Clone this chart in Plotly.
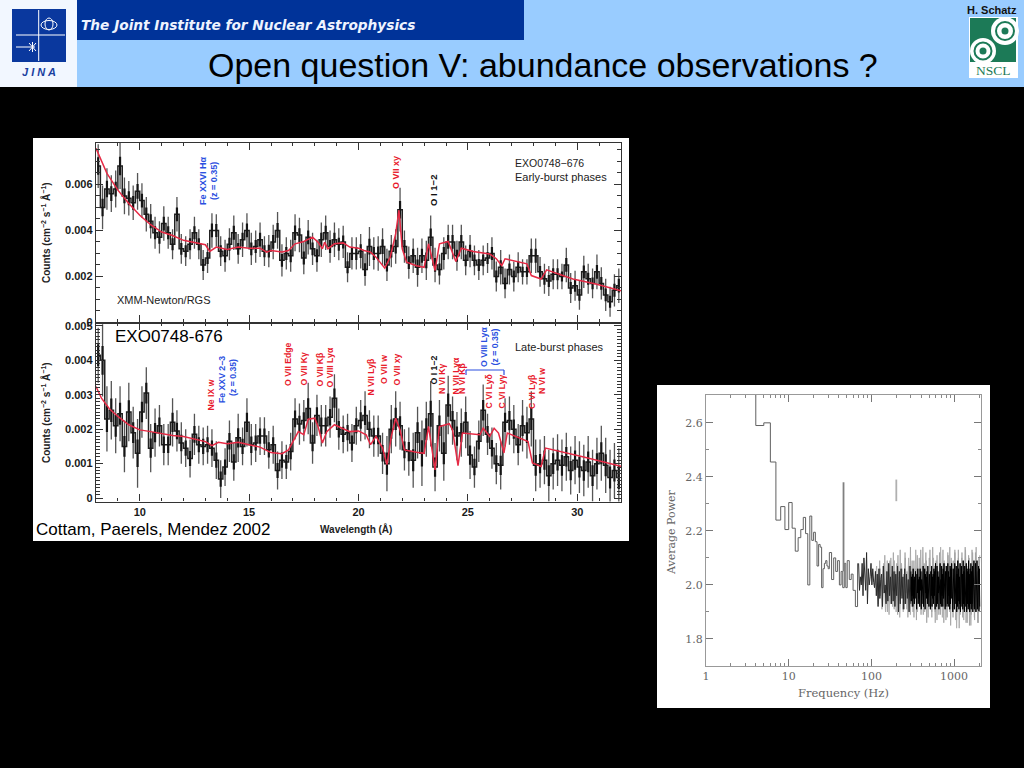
import plotly.graph_objects as go

W, H = 1024, 768

# ---------- data: RGS spectra, counts in units of 1e-3 cm^-2 s^-1 A^-1, 0.2 A bins ----------
wave = [round(8.1 + 0.2 * i, 1) for i in range(120)]
early_counts = [
    6.8,5.0,5.8,5.6,5.8,6.8,5.5,5.4,5.2,5.7,
    5.3,4.7,4.4,3.9,3.7,4.3,3.9,3.4,4.7,3.2,
    3.1,3.4,3.9,3.4,2.5,2.8,4.0,4.0,3.1,2.9,
    3.4,3.9,3.2,3.6,4.0,3.2,3.3,3.6,3.1,3.1,
    3.5,4.0,2.7,3.0,2.9,3.9,3.8,2.8,3.7,3.2,
    2.9,3.6,3.9,3.3,3.6,3.4,3.5,2.4,3.0,3.0,
    3.1,2.3,3.3,3.0,3.0,3.3,2.5,3.1,3.3,4.9,
    3.3,2.6,2.9,2.4,2.9,2.7,3.7,2.5,2.3,3.0,
    3.5,3.5,2.9,3.5,2.7,3.1,2.7,2.5,2.7,2.8,
    3.0,2.0,2.4,1.7,2.3,2.0,2.4,2.2,2.2,2.9,
    2.9,2.2,1.9,1.8,2.1,2.1,2.0,2.5,1.5,1.6,
    1.2,2.2,1.9,1.7,2.2,1.7,1.2,0.9,1.4,1.6]
early_err = [
    0.95,0.95,0.9,0.8,0.8,1.0,0.8,0.75,0.75,0.8,
    0.75,0.75,0.75,0.7,0.7,0.75,0.7,0.65,0.75,0.65,
    0.65,0.65,0.7,0.65,0.65,0.65,0.75,0.7,0.65,0.7,
    0.7,0.75,0.65,0.75,0.75,0.7,0.7,0.75,0.65,0.7,
    0.75,0.8,0.7,0.7,0.7,0.8,0.75,0.7,0.75,0.7,
    0.7,0.75,0.75,0.7,0.75,0.7,0.7,0.65,0.7,0.7,
    0.75,0.7,0.85,0.7,0.75,0.8,0.7,0.7,0.75,0.95,
    0.7,0.7,0.75,0.85,0.75,0.85,0.95,0.75,0.65,0.7,
    0.75,0.75,0.65,0.75,0.65,0.7,0.65,0.65,0.65,0.65,
    0.7,0.65,0.75,0.65,0.65,0.65,0.65,0.55,0.55,0.75,
    0.75,0.65,0.65,0.65,0.65,0.65,0.55,0.75,0.65,0.65,
    0.65,0.7,0.65,0.65,0.75,0.7,0.7,0.65,0.7,0.75]
early_model_wave = [8,8.25,8.5,9,9.5,10,10.5,11,11.5,12,12.5,13,13.2,13.5,14,14.5,15,15.5,15.8,16,
    16.5,16.8,17.1,17.5,17.9,18.15,18.35,18.45,18.6,18.9,19.3,19.6,20,20.25,20.55,20.8,21.2,21.45,
    21.7,21.85,22,22.2,22.65,23,23.2,23.5,23.7,24.1,24.45,24.7,25.25,26,26.3,26.55,26.7,27.7,27.9,
    28.35,28.6,29.8,30.85,32]
early_model = [7.57,7.0,6.48,5.75,5.17,4.66,4.25,3.93,3.78,3.57,3.46,3.38,3.09,3.28,3.17,3.28,3.23,3.23,3.06,3.13,
    3.06,3.13,3.42,3.52,3.71,3.49,3.2,3.49,3.2,3.42,3.46,3.28,3.23,3.13,3.06,2.84,2.36,2.84,
    3.86,4.88,3.2,2.62,2.47,2.4,3.42,2.26,3.42,3.52,2.65,3.23,3.09,2.98,2.77,2.47,2.77,2.55,2.04,
    1.89,2.29,1.89,1.67,1.38]

late_counts = [
    4.15,4.0,2.3,2.55,2.1,2.45,1.5,2.5,1.9,1.3,
    2.5,3.05,1.45,1.9,2.1,1.55,1.55,2.2,1.95,1.6,
    1.45,1.15,1.85,1.55,1.5,1.55,1.45,1.1,0.55,0.9,
    1.65,1.05,1.75,1.5,2.2,1.55,1.6,1.8,1.8,1.4,
    1.55,0.8,1.1,1.05,1.35,2.3,2.15,2.25,2.6,1.6,
    2.4,2.1,2.1,2.35,2.9,2.0,1.85,1.9,1.6,2.1,
    2.25,2.4,2.0,1.8,1.8,1.3,1.0,2.0,2.3,2.1,
    1.4,1.35,1.1,1.9,1.3,2.0,2.45,0.9,2.1,1.3,
    2.7,2.25,1.8,1.9,2.2,1.25,0.9,1.65,2.55,1.85,
    1.45,1.0,0.95,2.2,2.25,2.0,1.55,2.1,1.9,2.3,
    0.95,1.0,1.1,0.65,1.0,1.1,0.95,1.2,0.8,1.1,
    0.9,0.8,1.05,0.65,1.0,1.3,0.95,0.6,0.8,0.6]
late_err = [
    0.8,1.05,0.95,0.85,0.8,0.8,0.75,0.85,0.75,1.0,
    0.75,0.75,0.7,0.7,0.6,0.6,0.6,0.7,0.6,0.6,
    0.55,0.55,0.6,0.55,0.55,0.55,0.55,0.55,0.55,0.55,
    0.6,0.55,0.7,0.55,0.7,0.6,0.55,0.55,0.55,0.55,
    0.55,0.55,0.55,0.5,0.55,0.6,0.6,0.6,0.75,0.6,
    0.6,0.6,0.6,0.6,0.7,0.6,0.55,0.55,0.55,0.55,
    0.6,0.7,0.55,0.6,0.6,0.6,0.8,0.7,0.8,0.7,
    0.6,0.7,0.8,0.75,0.95,0.8,0.95,0.7,0.75,0.8,
    0.85,0.7,0.7,0.7,0.75,0.7,0.6,0.6,0.75,0.6,
    0.6,0.6,0.7,0.7,0.7,0.7,0.6,0.75,0.75,0.8,
    0.75,0.7,0.7,0.75,0.75,0.75,0.75,0.7,0.7,0.7,
    0.75,0.75,0.75,0.75,0.75,0.8,0.8,0.8,0.8,0.85]
late_model_wave = [8,8.25,8.6,9,9.5,10,10.5,11,11.5,12,12.5,13,13.3,13.6,14,14.5,15,15.5,16,16.5,16.8,17.05,17.25,
    17.5,17.7,18,18.15,18.35,18.55,18.9,19.6,20,20.35,20.55,20.8,21.1,21.3,21.5,21.7,21.9,22.1,22.65,23,23.2,
    23.5,23.7,24.15,24.3,24.55,24.75,25.55,25.7,26,26.2,26.4,26.65,26.8,27.75,27.95,28.35,28.55,30.2,32]
late_model = [3.24,2.9,2.6,2.37,2.13,1.98,1.93,1.87,1.82,1.79,1.71,1.64,1.52,1.62,1.58,1.62,1.55,1.48,1.32,1.29,1.4,1.69,1.93,
    1.84,2.29,2.32,2.08,1.6,1.93,2.13,1.93,1.95,1.84,1.55,1.79,1.45,0.97,1.79,2.32,1.98,1.4,1.33,1.3,2.08,
    0.82,2.08,2.16,1.98,0.94,1.89,1.84,2.03,1.79,2.03,1.89,1.31,1.89,1.64,1.02,0.92,1.45,1.21,0.92]

# ---------- data: power spectrum ----------
step_freq = [3,4,5,6,7,8,9,10,11,12,13,14,15,16,17,18,19,20,21,22,23,24,25,26,27,28,29,30,31,33,35,37,39,41,43,45,47,49,51,54,57,60,64,68]
step_power = [3.2,2.59,2.60,2.455,2.24,2.29,2.205,2.305,2.21,2.125,2.175,2.205,2.25,2.19,2.0,2.255,2.165,2.195,2.16,2.07,2.15,2.14,1.99,2.06,2.08,2.09,2.07,2.06,2.12,2.02,2.10,2.05,2.09,2.0,2.05,1.99,2.08,1.99,2.09,2.02,2.04,1.98,1.92,2.08]
peak_a_freq, peak_a_power = [46, 46], [2.05, 2.38]
peak_b_freq, peak_b_power = [200, 200], [2.31, 2.39]
band_low = [2.08,1.98,2.03,2.00,2.08,1.96,2.10,2.03,1.98,2.12,1.93,2.06,2.00,2.03,2.08,2.00,2.06,2.01,1.99,2.05,
    1.96,2.04,1.92,2.06,1.95,2.02,2.04,1.92,2.07,1.97,2.00,1.93,2.05,1.94,2.08,1.96,2.03,1.93,2.07,1.94,
    2.05,1.92,2.04,1.96,2.07,1.90,2.05,1.93,2.06,1.95,2.03,1.91,2.06,1.93,2.04,1.95,2.02,1.90,2.07,1.93]
band_high = [2.05,1.94,2.03,1.96,2.04,1.92,2.06,1.95,2.02,1.93,2.03,1.95,2.05,1.96,2.01,1.91,2.04,1.97,2.06,1.93,
    2.02,1.95,2.03,1.92,2.06,1.98,2.05,1.91,2.02,1.93,2.04,1.95,2.07,1.92,2.01,1.94,2.06,1.91,2.04,1.97,
    2.03,1.95,2.05,1.93,2.07,1.97,2.06,1.92,2.04,1.94,2.02,1.91,2.05,1.96,2.07,1.92,2.03,1.95,2.04,1.93,
    2.06,1.96,2.05,1.91,2.08,1.94,2.02,1.92,2.07,1.93,2.05,1.97,2.03,1.91,2.06,1.94,2.08,1.93,2.02,1.92,
    2.07,1.96,2.04,1.92,2.06,1.95,2.08,1.94,2.03,1.91,2.05,1.92,2.07,1.95,2.04,1.93,2.08,1.92,2.05,1.96,
    2.03,1.91,2.07,1.93,2.06,1.95,2.08,1.92,2.04,1.90,2.06,1.93,2.02,1.91,2.08,1.94,2.05,1.93,2.07,1.90,
    2.04,1.92,2.09,1.94,2.06,1.91,2.03,1.93,2.08,1.90,2.06,1.95,2.07,1.92,2.04,1.91,2.09,1.93,2.05,1.90,
    2.07,1.94,2.03,1.92,2.08,1.90,2.06,1.93,2.05,1.91,2.09,1.92,2.04,1.90,2.06,1.93,2.08,1.91,2.05,1.93,
    2.07,1.90,2.04,1.92,2.09,1.91,2.06,1.93,2.08,1.90,2.05,1.92,2.09,1.91,2.03,1.93,2.07,1.90,2.06,1.92]
spikes = [2.0,2.07,1.93,2.06,1.91,2.08,1.90,2.09,1.89,2.10,1.92,2.09,1.90,2.11,1.88,2.08,1.90,2.12,1.91,2.10,
    1.89,2.09,1.88,2.13,1.90,2.10,1.89,2.14,1.90,2.09,1.88,2.13,1.90,2.10,1.86,2.11,1.89,2.14,1.88,2.09,
    1.87,2.12,1.90,2.10,1.88,2.13,1.84,2.10,1.89,2.12,1.87,2.13,1.86,2.10,1.85,2.12,1.88,2.14,1.86,2.11]
fringe = [2.04,1.95,2.09,1.96,2.02,1.92,2.07,1.97,2.11,1.94,2.03,1.90,2.06,1.96,2.09,1.93,2.04,1.98,2.12,1.91,
    2.05,1.95,2.08,1.89,2.03,1.94,2.13,1.96,2.06,1.91,2.04,1.93,2.10,1.97,2.05,1.88,2.07,1.95,2.14,1.92,
    2.03,1.90,2.09,1.96,2.06,1.87,2.11,1.94,2.04,1.92,2.13,1.96,2.05,1.89,2.08,1.93,2.12,1.86,2.05,1.94,
    2.10,1.91,2.04,1.88,2.14,1.95,2.07,1.90,2.09,1.87,2.05,1.94,2.12,1.89,2.06,1.92,2.13,1.86,2.08,1.95,
    2.04,1.88,2.11,1.93,2.14,1.85,2.06,1.91,2.09,1.94,2.12,1.87,2.05,1.90,2.13,1.84,2.08,1.93,2.10,1.88,
    2.05,1.91,2.14,1.86,2.07,1.93,2.11,1.85,2.06,1.89,2.13,1.92,2.08,1.87,2.12,1.90,2.05,1.86,2.10,1.91]

# ---------- tick labels ----------
wave_ticks = [10, 15, 20, 25, 30]
early_ticks = [0, 0.002, 0.004, 0.006]
early_labels = ["0", "0.002", "0.004", "0.006"]
late_ticks = [0, 0.001, 0.002, 0.003, 0.004, 0.005]
late_labels = ["0", "0.001", "0.002", "0.003", "0.004", "0.005"]
freq_ticks = [1, 10, 100, 1000]
freq_labels = ["1", "10", "100", "1000"]
freq_minor = [2,3,4,5,6,7,8,9,20,30,40,50,60,70,80,90,200,300,400,500,600,700,800,900,2000]
power_ticks = [1.8, 2.0, 2.2, 2.4, 2.6]
power_labels = ["1.8", "2.0", "2.2", "2.4", "2.6"]

SANS = "Liberation Sans"
SERIF = "DejaVu Serif"
RED, BLUE = "#e8192c", "#2a4fe0"


def px(x): return x / W
def py(y): return 1 - y / H


def geomgrid(a, b, n):
    return [a * (b / a) ** (i / (n - 1)) for i in range(n)]


fig = go.Figure()


def spectrum(counts, err, mw, mv, xa, ya):
    y = [v * 1e-3 for v in counts]
    fig.add_trace(go.Scatter(x=wave, y=y, mode="lines",
        line=dict(color="#222222", width=1.5, shape="hvh"),
        error_y=dict(type="data", array=[v * 1e-3 for v in err], color="#555555", thickness=1.3, width=0),
        xaxis=xa, yaxis=ya))
    fig.add_trace(go.Scatter(x=wave, y=y, mode="lines", line=dict(width=0),
        error_y=dict(type="data", array=[v * 0.4e-3 for v in err], color="#151515", thickness=2.2, width=0),
        xaxis=xa, yaxis=ya))
    fig.add_trace(go.Scatter(x=mw, y=[v * 1e-3 for v in mv], mode="lines",
        line=dict(color="#e62a45", width=1.5), xaxis=xa, yaxis=ya))


spectrum(early_counts, early_err, early_model_wave, early_model, "x", "y")
spectrum(late_counts, late_err, late_model_wave, late_model, "x2", "y2")

# power spectrum
fig.add_trace(go.Scatter(x=geomgrid(110, 2040, len(spikes)), y=spikes, mode="lines",
    line=dict(color="#b0b0b0", width=1), xaxis="x3", yaxis="y3"))
fig.add_trace(go.Scatter(x=geomgrid(120, 2040, len(fringe)), y=fringe, mode="lines",
    line=dict(color="#a0a0a0", width=0.8), xaxis="x3", yaxis="y3"))
fig.add_trace(go.Scatter(x=step_freq, y=step_power, mode="lines",
    line=dict(color="#606060", width=1, shape="hv"), xaxis="x3", yaxis="y3"))
fig.add_trace(go.Scatter(x=peak_a_freq, y=peak_a_power, mode="lines",
    line=dict(color="#808080", width=1.8), xaxis="x3", yaxis="y3"))
fig.add_trace(go.Scatter(x=peak_b_freq, y=peak_b_power, mode="lines",
    line=dict(color="#b0b0b0", width=1.8), xaxis="x3", yaxis="y3"))
fig.add_trace(go.Scatter(x=geomgrid(70, 300, len(band_low)), y=band_low, mode="lines",
    line=dict(color="#2a2a2a", width=1), xaxis="x3", yaxis="y3"))
fig.add_trace(go.Scatter(x=geomgrid(300, 2040, len(band_high)), y=band_high, mode="lines",
    line=dict(color="#000000", width=1), xaxis="x3", yaxis="y3"))


def rect(x0, y0, x1, y1, color, layer="below", line=None):
    return dict(type="rect", xref="paper", yref="paper", x0=px(x0), x1=px(x1), y0=py(y1), y1=py(y0),
                fillcolor=color, line=dict(width=0) if line is None else line, layer=layer)


def circ(x, y, rx, color, line=None, ry=None):
    ry = rx if ry is None else ry
    return dict(type="circle", xref="paper", yref="paper", x0=px(x - rx), x1=px(x + rx), y0=py(y + ry), y1=py(y - ry),
                fillcolor=color, line=dict(width=0) if line is None else line, layer="below")


def seg(x0, y0, x1, y1, color, width=1, layer="below"):
    return dict(type="line", xref="paper", yref="paper", x0=px(x0), x1=px(x1), y0=py(y0), y1=py(y1),
                line=dict(color=color, width=width), layer=layer)


LOGO = "#0a389e"
GREEN = "#1c7a57"
shapes = [
    rect(0, 0, W, 87, "#99ccff"),
    rect(77, 0, 524, 40, "#003399"),
    rect(0, 0, 77, 87, "#f2f7ff"),
    rect(12, 9, 66, 62, LOGO),
    seg(38.7, 10, 38.7, 61, "white"),
    seg(16, 35, 65, 35, "white"),
    seg(16, 47, 35, 47, "white"),
    seg(29, 43, 36, 51, "white"),
    seg(36, 43, 29, 51, "white"),
    seg(32.5, 42, 32.5, 52, "white"),
    circ(49, 25, 8, "rgba(0,0,0,0)", dict(color="white", width=1), 4.5),
    circ(49, 24, 4, "rgba(0,0,0,0)", dict(color="white", width=1), 6),
    rect(969, 17, 1018, 78, "white"),
    rect(970, 18, 1016, 62, GREEN),
    circ(1005, 31, 14, "white"),
    circ(1005, 31, 9, "rgba(0,0,0,0)", dict(color=GREEN, width=2)),
    circ(1005, 31, 3.5, GREEN),
    circ(983, 51, 13, "white"),
    circ(983, 51, 8.5, "rgba(0,0,0,0)", dict(color=GREEN, width=2)),
    circ(983, 51, 3.5, GREEN),
    rect(33, 138, 629, 541, "white"),
    rect(657, 385, 990, 708, "white"),
    seg(466, 375, 466, 370, BLUE, 1.2, "above"),
    seg(466, 370, 504, 370, BLUE, 1.2, "above"),
    seg(504, 370, 504, 375, BLUE, 1.2, "above"),
]

annotations = []


def label(text, x, y, color="#222222", size=9, angle=0, anchor="center", family=SANS):
    annotations.append(dict(text=text, xref="paper", yref="paper", x=px(x), y=py(y), showarrow=False,
                            xanchor=anchor, yanchor="middle", textangle=angle,
                            font=dict(family=family, size=size, color=color), borderpad=0, borderwidth=0))


# header
label("<b><i>The Joint Institute for Nuclear Astrophysics</i></b>", 81, 25, "#eef3ff", 13.7, anchor="left", family="DejaVu Sans")
label("Open question V: abundance observations ?", 542.5, 65, "#000000", 34)
label("<b>H. Schatz</b>", 992, 10, "#111111", 11)
label("<b><i>J I N A</i></b>", 39, 72, "#1a3f9f", 11)
label("NSCL", 993, 70, GREEN, 13.5, family="Liberation Serif")

# spectra axis titles
label("<b>Counts (cm<sup>−2</sup> s<sup>−1</sup> Å<sup>−1</sup>)</b>", 46, 233, "#222222", 10, -90)
label("<b>Counts (cm<sup>−2</sup> s<sup>−1</sup> Å<sup>−1</sup>)</b>", 46, 413, "#222222", 10, -90)
label("<b>Wavelength (Å)</b>", 356, 529, "#222222", 10)

# early panel
label("<b>Fe XXVI Hα</b>", 203, 181, BLUE, 9, -90)
label("<b>(z = 0.35)</b>", 214, 181, BLUE, 9, -90)
label("<b>O VII xy</b>", 396, 173, RED, 9, -90)
label("<b>O I 1−2</b>", 434, 191, "#111111", 9.5, -90)
label("EXO0748−676", 515, 163, "#222222", 10.5, anchor="left")
label("Early-burst phases", 515, 177, "#222222", 11, anchor="left")
label("XMM-Newton/RGS", 117, 300, "#222222", 11, anchor="left")

# late panel
label("EXO0748-676", 115, 336.5, "#000000", 17, anchor="left")
label("Cottam, Paerels, Mendez 2002", 36, 529, "#000000", 17, anchor="left")
label("Late-burst phases", 515, 346.5, "#222222", 11, anchor="left")
for text, x, y, col in [
    ("Ne IX w", 210, 395.5, RED), ("Fe XXV 2−3", 221.5, 379.5, BLUE), ("(z = 0.35)", 233, 378, BLUE),
    ("O VII Edge", 288, 364, RED), ("O VII Kγ", 303, 369.5, RED), ("O VII Kβ", 319, 369.5, RED),
    ("O VIII Lyα", 329, 367.5, RED), ("N VII Lyβ", 370, 376.5, RED), ("O VII w", 384, 370, RED),
    ("O VII xy", 396, 369.5, RED), ("O I 1−2", 433, 370.5, "#111111"), ("N VI Kγ", 441.5, 378.5, RED),
    ("N VII Lyα", 455, 375.5, RED), ("N VI Kβ", 461.5, 378.5, RED), ("O VIII Lyα", 484, 347, BLUE),
    ("(z = 0.35)", 495, 347.5, BLUE), ("C VI Lyδ", 488, 391.5, RED), ("C VI Lyγ", 501, 391.5, RED),
    ("C VI Lyβ", 531.5, 391.5, RED), ("N VI w", 541.5, 381.5, RED),
]:
    label(f"<b>{text}</b>", x, y, col, 8.7, -90)

# power spectrum titles
label("Average Power", 671, 532, "#666666", 11, -90, family=SERIF)
label("Frequency (Hz)", 843, 693, "#666666", 11.5, family=SERIF)

AX = "#333333"
common = dict(showgrid=False, zeroline=False, showline=True, linecolor=AX, linewidth=1.4, mirror="ticks",
              ticks="inside", tickcolor=AX, tickwidth=1.2, ticklen=7)
tickfont = dict(family=SANS, size=11, color="#1a1a1a", weight="bold")

fig.update_layout(
    width=W, height=H, autosize=False, showlegend=False, hovermode=False,
    margin=dict(l=0, r=0, t=0, b=0, pad=0, autoexpand=False),
    paper_bgcolor="#000000", plot_bgcolor="rgba(0,0,0,0)",
    shapes=shapes, annotations=annotations,
    xaxis=dict(common, domain=[px(96), px(621)], range=[8, 32], anchor="y", tickvals=wave_ticks,
               showticklabels=False, minor=dict(dtick=1, ticks="inside", ticklen=3, tickcolor=AX, tick0=8)),
    yaxis=dict(common, domain=[py(322.5), py(143)], range=[0, 0.0078], anchor="x", tickvals=early_ticks,
               ticktext=early_labels, tickfont=tickfont,
               minor=dict(dtick=0.0005, ticks="inside", ticklen=4, tickcolor=AX)),
    xaxis2=dict(common, domain=[px(96), px(621)], range=[8, 32], anchor="y2", tickvals=wave_ticks,
                tickfont=tickfont, minor=dict(dtick=1, ticks="inside", ticklen=3, tickcolor=AX, tick0=8)),
    yaxis2=dict(common, domain=[py(501.5), py(322.5)], range=[-0.0001, 0.0051], anchor="x2", tickvals=late_ticks,
                ticktext=late_labels, tickfont=tickfont,
                minor=dict(dtick=0.0001, ticks="inside", ticklen=4, tickcolor=AX)),
    xaxis3=dict(showgrid=False, zeroline=False, showline=True, linecolor="#999999", linewidth=1, mirror="ticks",
                ticks="inside", tickcolor="#777777", ticklen=7, domain=[px(706), px(981)], type="log",
                range=[0, 3.325], anchor="y3", tickvals=freq_ticks, ticktext=freq_labels,
                tickfont=dict(family=SERIF, size=11, color="#666666"),
                minor=dict(tickvals=freq_minor, ticks="inside", ticklen=3, tickcolor="#888888")),
    yaxis3=dict(showgrid=False, zeroline=False, showline=True, linecolor="#999999", linewidth=1, mirror="ticks",
                ticks="inside", tickcolor="#777777", ticklen=7, domain=[py(666), py(395)], range=[1.7, 2.703],
                anchor="x3", tickvals=power_ticks, ticktext=power_labels,
                tickfont=dict(family=SERIF, size=11, color="#666666"),
                minor=dict(dtick=0.1, ticks="inside", ticklen=3, tickcolor="#888888")),
)

fig.write_html("out.html", config={"displayModeBar": False},
               post_script="document.body.style.margin='0';document.body.style.overflow='hidden';")
